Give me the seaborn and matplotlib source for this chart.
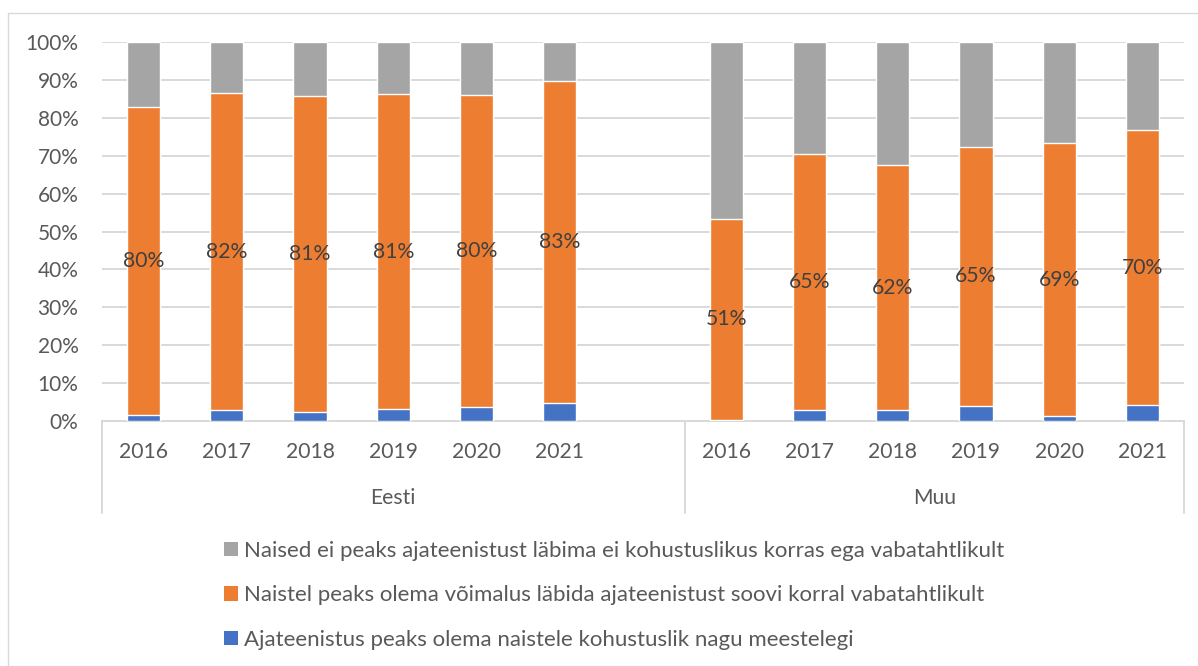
import numpy as np
import pandas as pd
import seaborn as sns
import matplotlib.pyplot as plt
import matplotlib.transforms as mtransforms
from matplotlib.patches import Patch, Rectangle

groups = ["Eesti", "Muu"]
years = ["2016", "2017", "2018", "2019", "2020", "2021"]

# shares in %
eesti_kohustuslik = [1.7, 2.9, 2.4, 3.2, 3.8, 4.7]
eesti_vabatahtlik = [81.1, 83.6, 83.3, 83.0, 82.1, 85.0]
muu_kohustuslik = [0.3, 2.8, 2.8, 4.0, 1.2, 4.1]
muu_vabatahtlik = [53.0, 67.7, 64.8, 68.4, 72.2, 72.7]

# data labels as printed on the orange bars
eesti_labels = ["80%", "82%", "81%", "81%", "80%", "83%"]
muu_labels = ["51%", "65%", "62%", "65%", "69%", "70%"]

series_names = [
    "Naised ei peaks ajateenistust läbima ei kohustuslikus korras ega vabatahtlikult",
    "Naistel peaks olema võimalus läbida ajateenistust soovi korral vabatahtlikult",
    "Ajateenistus peaks olema naistele kohustuslik nagu meestelegi",
]

GRAY = "#a5a5a5"
ORANGE = "#ed7d31"
BLUE = "#4472c4"
TXT = "#595959"
LINE = "#d9d9d9"

rows = []
for g, blue, orange, labs in [("Eesti", eesti_kohustuslik, eesti_vabatahtlik, eesti_labels),
                              ("Muu", muu_kohustuslik, muu_vabatahtlik, muu_labels)]:
    for y, b, o, l in zip(years, blue, orange, labs):
        rows.append({"group": g, "year": y, "cat": g + " " + y,
                     "blue": b, "orange": o, "gray": 100 - b - o, "label": l})
df = pd.DataFrame(rows)
df["top2"] = df["blue"] + df["orange"]
df["top3"] = df["top2"] + df["gray"]

# Eesti has an empty slot after 2021
order = ["Eesti " + y for y in years] + ["Eesti -"] + ["Muu " + y for y in years]
tick_text = years + [""] + years

sns.set_style("white")
plt.rcParams["font.family"] = ["Lato", "DejaVu Sans"]

fig = plt.figure(figsize=(11.98, 6.66), dpi=100)
ax = fig.add_axes([102 / 1198, 1 - 421 / 666, (1184 - 102) / 1198, 379 / 666])

sns.barplot(data=df, x="cat", y="top3", order=order, color=GRAY, width=0.4,
            saturation=1, errorbar=None, ax=ax, zorder=2)
sns.barplot(data=df, x="cat", y="top2", order=order, color=ORANGE, width=0.4,
            saturation=1, errorbar=None, ax=ax, zorder=3)
sns.barplot(data=df, x="cat", y="blue", order=order, color=BLUE, width=0.4,
            saturation=1, errorbar=None, ax=ax, zorder=4)

for _, r in df.iterrows():
    ax.text(order.index(r["cat"]), r["blue"] + r["orange"] / 2, r["label"],
            ha="center", va="center", fontsize=15.2, color="#404040", zorder=5)

ax.set_ylim(0, 100)
ax.set_xlim(-0.5, len(order) - 0.5)
ax.set_yticks(np.arange(0, 101, 10))
ax.set_yticklabels([f"{v}%" for v in range(0, 101, 10)], fontsize=15, color=TXT)
ax.tick_params(axis="y", length=0, pad=17)
ax.yaxis.grid(True, color=LINE, linewidth=1.4, zorder=0)
ax.set_axisbelow(True)
ax.set_xticks([])
ax.set_xlabel("")
ax.set_ylabel("")
for s in ["top", "left", "right"]:
    ax.spines[s].set_visible(False)
ax.spines["bottom"].set_color(LINE)
ax.spines["bottom"].set_linewidth(1.4)

# two-level category axis below the bars
trans = mtransforms.blended_transform_factory(ax.transData, ax.transAxes)
for i, t in enumerate(tick_text):
    ax.text(i, -31 / 379, t, transform=trans, ha="center", va="center",
            fontsize=15.2, color=TXT)
ax.text(3.0, -77 / 379, "Eesti", transform=trans, ha="center", va="center",
        fontsize=15.2, color=TXT)
ax.text(9.5, -77 / 379, "Muu", transform=trans, ha="center", va="center",
        fontsize=15.2, color=TXT)
for xv in [-0.5, 6.5, 12.5]:
    ax.plot([xv, xv], [0, -92 / 379], transform=trans, color=LINE,
            linewidth=1.4, clip_on=False)

handles = [Patch(facecolor=c, edgecolor="none") for c in [GRAY, ORANGE, BLUE]]
fig.legend(handles, series_names, loc="upper left",
           bbox_to_anchor=(224 / 1198, 1 - 541 / 666), frameon=False,
           fontsize=16, labelcolor=TXT, handlelength=0.62, handleheight=0.62,
           handletextpad=0.3, labelspacing=1.1, borderpad=0, borderaxespad=0)

fig.patches.append(Rectangle((8 / 1198, -0.1), 1.2, 1 - 13 / 666 + 0.1,
                             transform=fig.transFigure, fill=False,
                             edgecolor=LINE, linewidth=1))

fig.savefig("out.png", dpi=100)
